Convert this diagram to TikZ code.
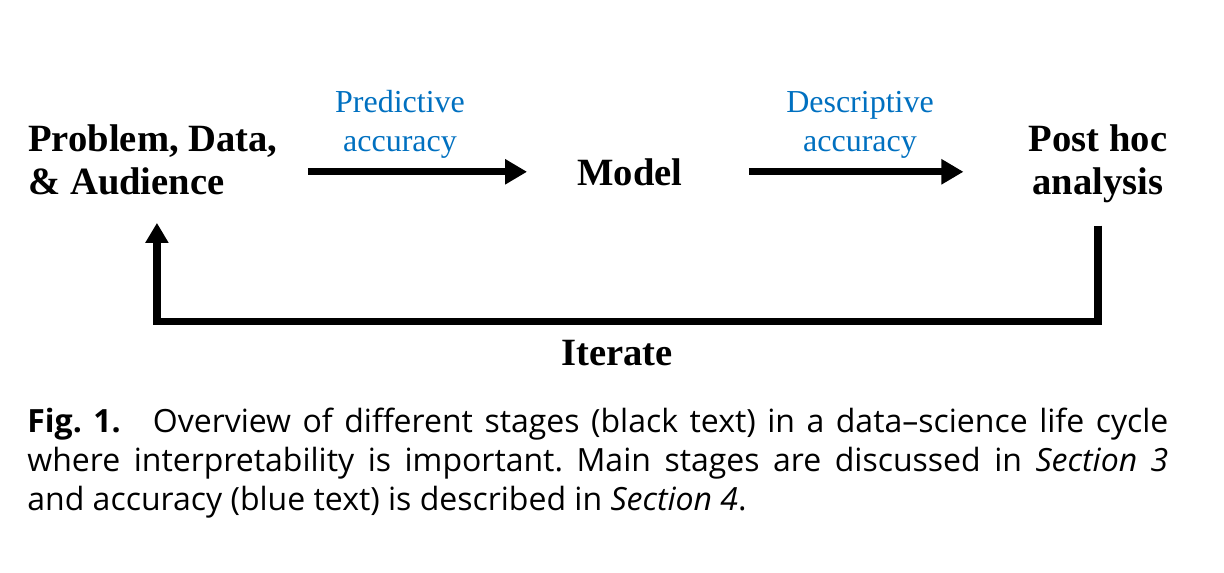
\documentclass[tikz,border=0pt]{standalone}
\usepackage{fontspec}
\setmainfont{Liberation Serif}
\newfontfamily\capfont{Open Sans}
\usepackage{tikz}
\usetikzlibrary{arrows.meta, positioning, calc}

\definecolor{accblue}{RGB}{0,112,192}

\begin{document}
\begin{tikzpicture}[
        x=0.5pt, y=-0.5pt,
        stage/.style={
            inner sep=0pt,
            font=\fontsize{19.3}{21.5}\selectfont\bfseries
        },
        acc/.style={
            inner sep=0pt,
            align=center,
            text=accblue,
            font=\fontsize{16}{19.5}\selectfont
        },
        capnote/.style={
            inner sep=0pt,
            text width=570.5pt,
            align=justify,
            font=\capfont\fontsize{16}{19.5}\selectfont\frenchspacing
        },
        arrow/.style={-{Triangle[length=11pt, width=12pt]}, line width=3.7pt},
        feedback/.style={-{Triangle[length=10pt, width=11pt]}, line width=3.7pt}
    ]

        \useasboundingbox (0,0) rectangle (1224,572);

        % Etapes principales (ancre sur la derniere ligne)
        \node[stage, align=left, anchor=base west] at (28,195)
            (prob) {Problem, Data,\\\& Audience};

        \node[stage, anchor=base] at (630,185)
            (model) {Model};

        \node[stage, align=center, anchor=base] at (1098,195)
            (post) {Post hoc\\analysis};

        % Precision (texte bleu)
        \node[acc, anchor=base] at (400,152)
            (pred) {Predictive\\accuracy};

        \node[acc, anchor=base] at (860,152)
            (desc) {Descriptive\\accuracy};

        \node[stage, anchor=base] at (617,365)
            (iterate) {Iterate};

        % Fleches principales
        \draw[arrow, shorten <=15pt, shorten >=25pt] (prob.east |- model) -- (model.west);
        \draw[arrow, shorten <=33pt, shorten >=32.5pt] (model.east) -- (post.west |- model);

        % Boucle de retour
        \draw[feedback, shorten <=11pt, shorten >=13.5pt]
            (post.south) |- ([yshift=9pt]iterate.north) -| ([xshift=2pt]prob.south);

        % Legende
        \node[capnote, anchor=base west] at (27,432) (caption)
            {\textbf{Fig. 1.}\quad Overview of different stages (black text) in a data–science life cycle\linebreak
             where interpretability is important. Main stages are discussed in \textit{Section 3}\linebreak
             and accuracy (blue text) is described in \textit{Section 4}.};

    \end{tikzpicture}
\end{document}
